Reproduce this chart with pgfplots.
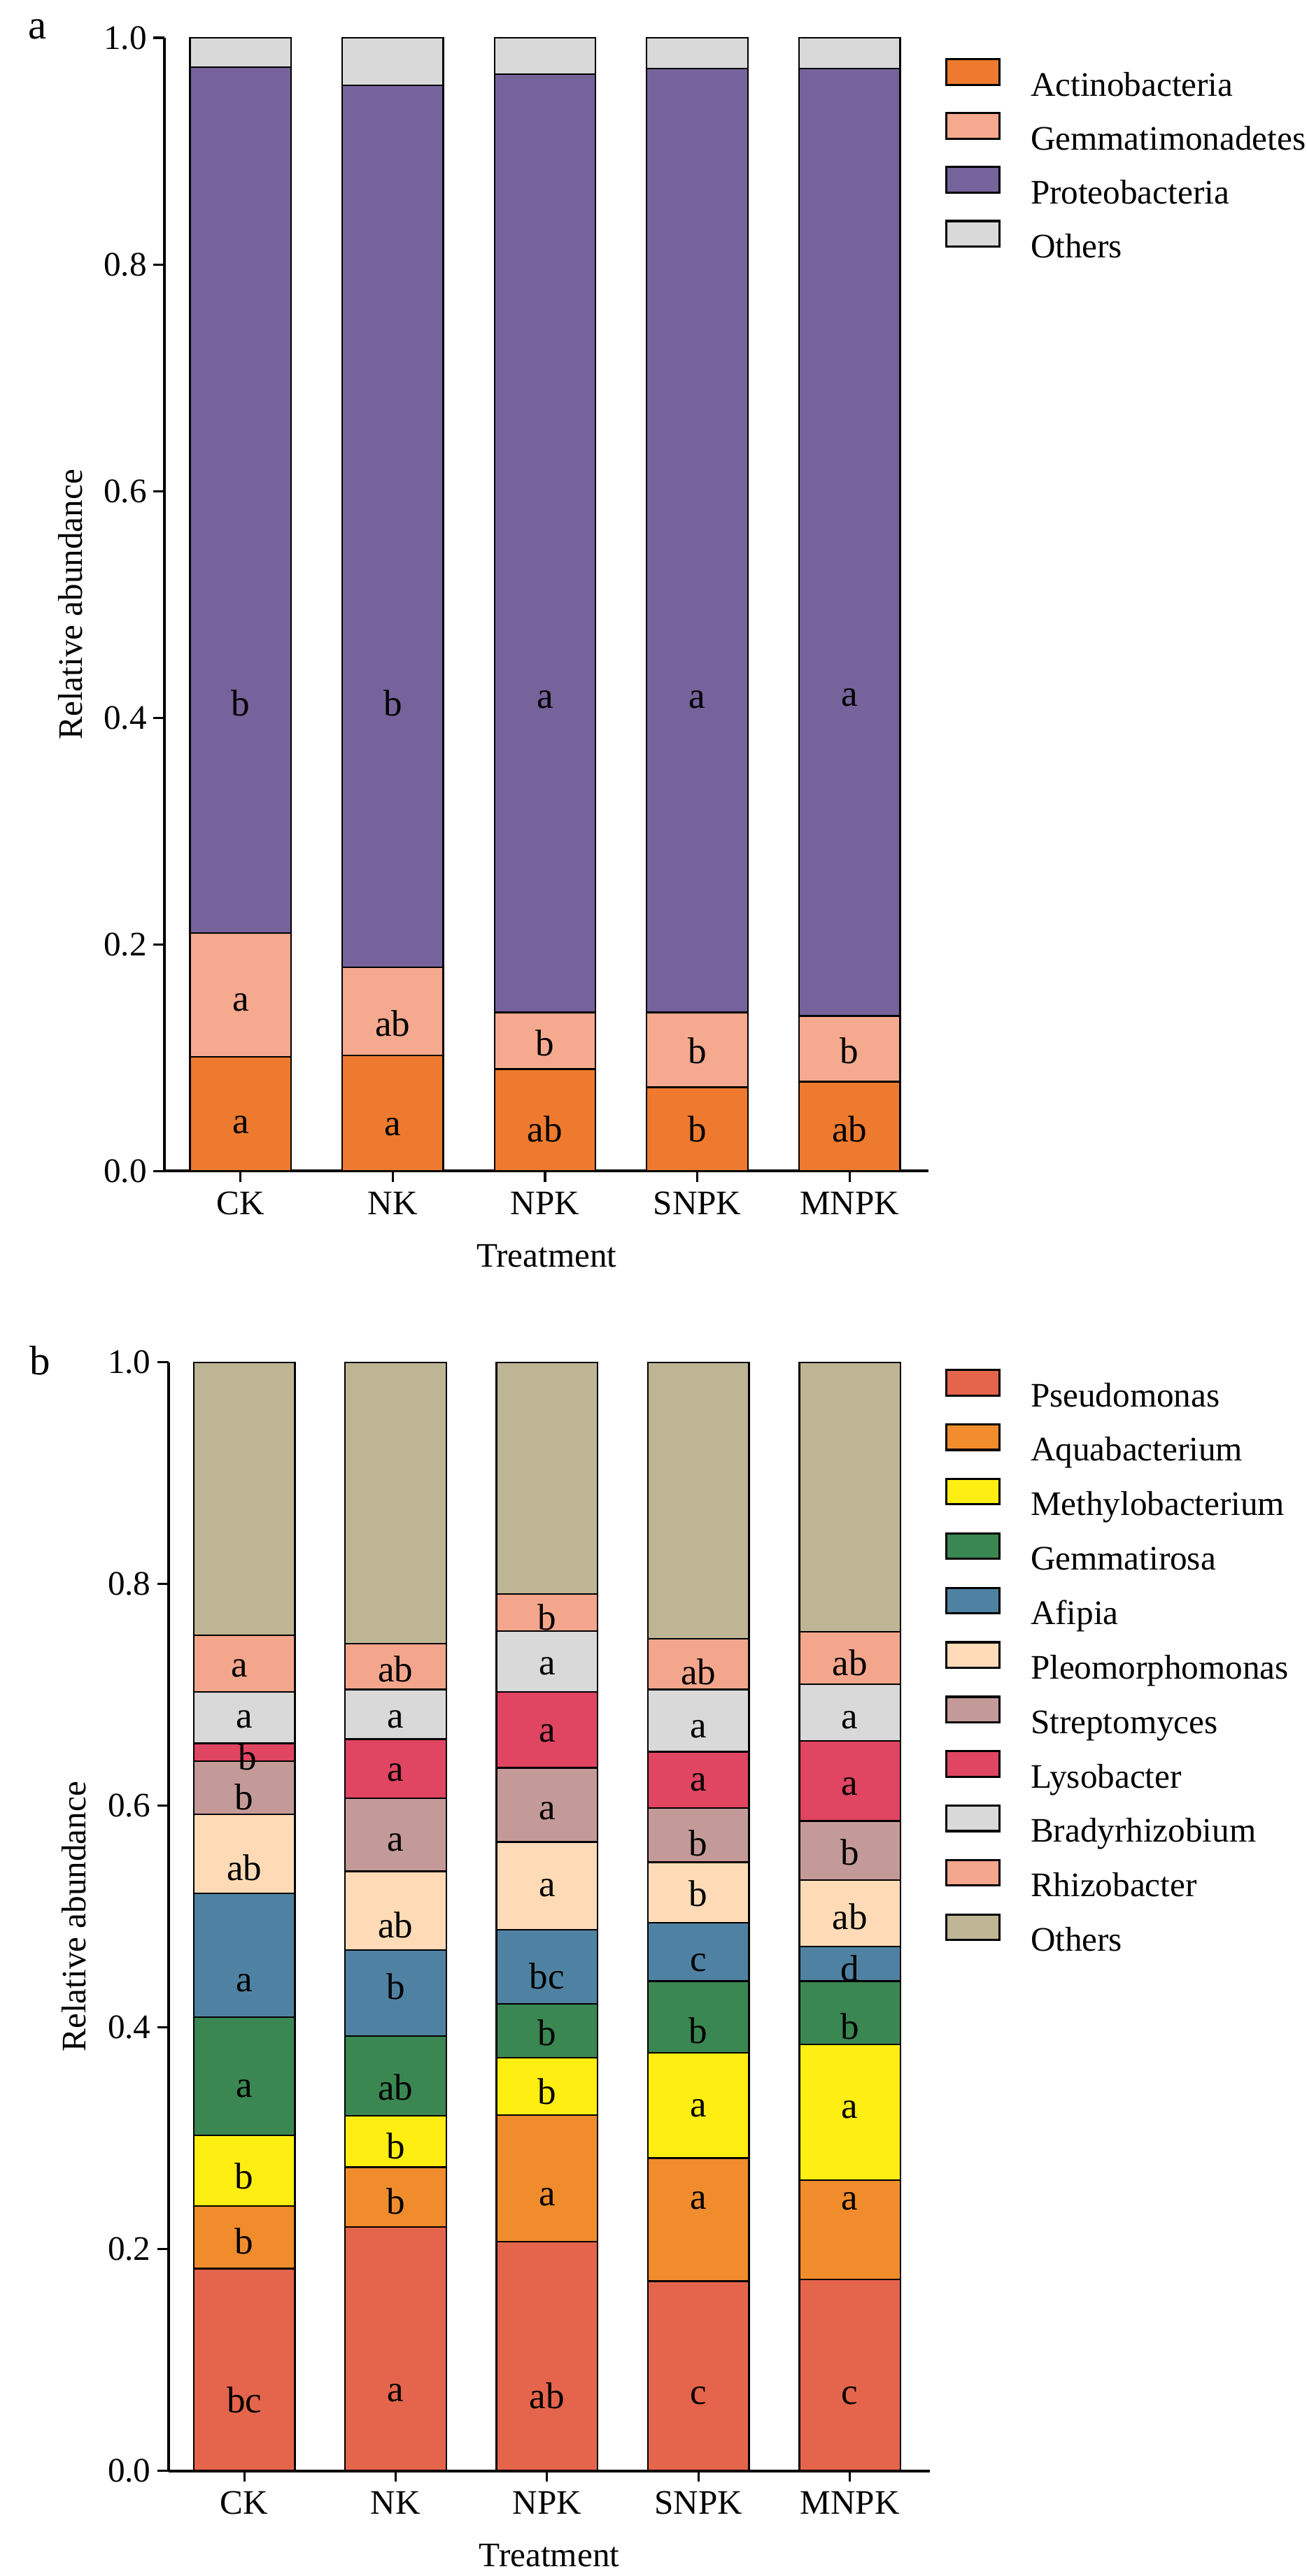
\documentclass[border=0pt]{standalone}
\usepackage{fontspec}
\setmainfont{Liberation Serif}
\usepackage{pgfplots}
\pgfplotsset{compat=1.18}
\usepackage{pgfplotstable}

\definecolor{cActino}{HTML}{ED7A2E}
\definecolor{cGemma}{HTML}{F5A98E}
\definecolor{cProteo}{HTML}{76639B}
\definecolor{cOther}{HTML}{D9D9D9}
\definecolor{cPs}{HTML}{E5654C}
\definecolor{cAq}{HTML}{F08C2C}
\definecolor{cMe}{HTML}{FFEE11}
\definecolor{cGe}{HTML}{3A8752}
\definecolor{cAf}{HTML}{4F82A2}
\definecolor{cPl}{HTML}{FEDBB6}
\definecolor{cSt}{HTML}{C49A98}
\definecolor{cLy}{HTML}{E04561}
\definecolor{cBr}{HTML}{D9D9D9}
\definecolor{cRh}{HTML}{F4A68C}
\definecolor{cOt}{HTML}{BDB594}

\pgfplotstableread{
x A G P O
0 0.101 0.109 0.764 0.026
1 0.102 0.078 0.778 0.042
2 0.090 0.050 0.828 0.032
3 0.074 0.066 0.833 0.027
4 0.079 0.058 0.836 0.027
}\phyla

\pgfplotstableread{
x Ps Aq Me Ge Af Pl St Ly Br Rh Ot
0 0.1825 0.0563 0.0639 0.1064 0.1118 0.0715 0.0479 0.0160 0.0464 0.0509 0.2464
1 0.2198 0.0540 0.0464 0.0722 0.0776 0.0707 0.0661 0.0533 0.0448 0.0411 0.2540
2 0.2068 0.1141 0.0517 0.0487 0.0669 0.0791 0.0669 0.0685 0.0547 0.0335 0.2091
3 0.1711 0.1110 0.0951 0.0646 0.0525 0.0547 0.0487 0.0510 0.0562 0.0457 0.2494
4 0.1726 0.0898 0.1224 0.0570 0.0312 0.0601 0.0532 0.0723 0.0509 0.0472 0.2433
}\genera

\newcommand{\tfont}{\fontsize{12.5}{15}\selectfont}
\newcommand{\lfont}{\fontsize{13.5}{16}\selectfont}
\tikzset{lb/.style={font=\lfont, inner sep=0pt, text=black}}

\pgfplotsset{
  bb/.style={draw=black, line width=0.6pt, fill=#1},
  common/.style={
    scale only axis,
    ybar stacked,
    bar width=36.75pt,
    xmin=-0.5, ymin=0, ymax=1,
    clip=false,
    axis x line*=bottom, axis y line*=left,
    axis line style={line width=1pt, black, -},
    xtick={0,1,2,3,4},
    xticklabels={CK,NK,NPK,SNPK,MNPK},
    ytick={0,0.2,0.4,0.6,0.8,1},
    yticklabel style={/pgf/number format/fixed, /pgf/number format/fixed zerofill, /pgf/number format/precision=1, /pgf/number format/assume math mode=true, inner xsep=2.25pt},
    tick align=outside,
    major tick length=4pt,
    tick style={line width=0.8pt, black},
    ticklabel style={font=\tfont},
    label style={font=\tfont},
    xlabel={Treatment},
    ylabel={Relative abundance},
    xlabel style={at={(axis description cs:0.5,0)}, yshift=-30.75pt, anchor=center},
    legend cell align=left,
    legend image code/.code={\draw[##1, draw=black, line width=0.8pt] (0pt,-0.45pt) rectangle (19.25pt,8.8pt);},
    legend style={draw=none, fill=none, inner sep=0pt, outer sep=0pt, font=\tfont,
      nodes={inner sep=0pt}, column sep=11pt},
  },
  overlay/.style={
    scale only axis, hide axis, clip=false,
    xmin=-0.5, ymin=0, ymax=1,
  }
}

\begin{document}
\begin{tikzpicture}[x=1pt,y=1pt]
\path (0,0) rectangle (474.75,920.75);
\node[font=\fontsize{15}{18}\selectfont, anchor=center] at (13.75,910) {a};
\node[font=\fontsize{15}{18}\selectfont, anchor=center] at (14.5,426) {b};

\begin{axis}[common,
  at={(59.75pt,495pt)}, anchor=south west,
  width=277.75pt, height=412pt, xmax=4.52,
  ylabel style={at={(axis description cs:-0.1233,0.5)}, anchor=center},
  legend style={at={(axis description cs:1,1)}, anchor=north west, xshift=6pt, yshift=-7.4pt, row sep=4.4pt}]
\addplot[bb=cActino] table[x=x,y=A]{\phyla};
\addplot[bb=cGemma] table[x=x,y=G]{\phyla};
\addplot[bb=cProteo] table[x=x,y=P]{\phyla};
\addplot[bb=cOther] table[x=x,y=O]{\phyla};
\legend{\strut Actinobacteria,\strut Gemmatimonadetes,\strut Proteobacteria,\strut Others}
\end{axis}

\begin{axis}[overlay,
  at={(59.75pt,495pt)}, anchor=south west,
  width=277.75pt, height=412pt, xmax=4.52]
\node[lb] at (axis cs:0,0.041) {a};
\node[lb] at (axis cs:0,0.149) {a};
\node[lb] at (axis cs:0,0.413) {b};
\node[lb] at (axis cs:1,0.039) {a};
\node[lb] at (axis cs:1,0.130) {ab};
\node[lb] at (axis cs:1,0.413) {b};
\node[lb] at (axis cs:2,0.037) {ab};
\node[lb] at (axis cs:2,0.113) {b};
\node[lb] at (axis cs:2,0.416) {a};
\node[lb] at (axis cs:3,0.037) {b};
\node[lb] at (axis cs:3,0.106) {b};
\node[lb] at (axis cs:3,0.416) {a};
\node[lb] at (axis cs:4,0.037) {ab};
\node[lb] at (axis cs:4,0.106) {b};
\node[lb] at (axis cs:4,0.418) {a};
\end{axis}

\begin{axis}[common,
  at={(61.25pt,22.5pt)}, anchor=south west,
  width=276.75pt, height=403pt, xmax=4.53,
  ylabel style={at={(axis description cs:-0.1238,0.5)}, anchor=center},
  legend style={at={(axis description cs:1,1)}, anchor=north west, xshift=5.5pt, yshift=-2.4pt, row sep=4.6pt}]
\addplot[bb=cPs] table[x=x,y=Ps]{\genera};
\addplot[bb=cAq] table[x=x,y=Aq]{\genera};
\addplot[bb=cMe] table[x=x,y=Me]{\genera};
\addplot[bb=cGe] table[x=x,y=Ge]{\genera};
\addplot[bb=cAf] table[x=x,y=Af]{\genera};
\addplot[bb=cPl] table[x=x,y=Pl]{\genera};
\addplot[bb=cSt] table[x=x,y=St]{\genera};
\addplot[bb=cLy] table[x=x,y=Ly]{\genera};
\addplot[bb=cBr] table[x=x,y=Br]{\genera};
\addplot[bb=cRh] table[x=x,y=Rh]{\genera};
\addplot[bb=cOt] table[x=x,y=Ot]{\genera};
\legend{\strut Pseudomonas,\strut Aquabacterium,\strut Methylobacterium,\strut Gemmatirosa,\strut Afipia,\strut Pleomorphomonas,\strut Streptomyces,\strut Lysobacter,\strut Bradyrhizobium,\strut Rhizobacter,\strut Others}
\end{axis}

\begin{axis}[overlay,
  at={(61.25pt,22.5pt)}, anchor=south west,
  width=276.75pt, height=403pt, xmax=4.53]
\node[lb] at (axis cs:0,0.064) {bc};
\node[lb] at (axis cs:0,0.207) {b};
\node[lb] at (axis cs:0,0.266) {b};
\node[lb] at (axis cs:0,0.345) {a};
\node[lb] at (axis cs:0,0.440) {a};
\node[lb] at (axis cs:0,0.544) {ab};
\node[lb] at (axis cs:0,0.608) {b};
\node[lb] at (axis cs:0.02,0.644) {b};
\node[lb] at (axis cs:0,0.678) {a};
\node[lb] at (axis cs:-0.03,0.724) {a};
\node[lb] at (axis cs:1,0.070) {a};
\node[lb] at (axis cs:1,0.243) {b};
\node[lb] at (axis cs:1,0.293) {b};
\node[lb] at (axis cs:1,0.346) {ab};
\node[lb] at (axis cs:1,0.437) {b};
\node[lb] at (axis cs:1,0.492) {ab};
\node[lb] at (axis cs:1,0.567) {a};
\node[lb] at (axis cs:1,0.630) {a};
\node[lb] at (axis cs:1,0.678) {a};
\node[lb] at (axis cs:1,0.723) {ab};
\node[lb] at (axis cs:2,0.068) {ab};
\node[lb] at (axis cs:2,0.247) {a};
\node[lb] at (axis cs:2,0.342) {b};
\node[lb] at (axis cs:2,0.395) {b};
\node[lb] at (axis cs:2,0.446) {bc};
\node[lb] at (axis cs:2,0.526) {a};
\node[lb] at (axis cs:2,0.595) {a};
\node[lb] at (axis cs:2,0.665) {a};
\node[lb] at (axis cs:2,0.726) {a};
\node[lb] at (axis cs:2,0.770) {b};
\node[lb] at (axis cs:3,0.068) {c};
\node[lb] at (axis cs:3,0.244) {a};
\node[lb] at (axis cs:3,0.327) {a};
\node[lb] at (axis cs:3,0.397) {b};
\node[lb] at (axis cs:3,0.458) {c};
\node[lb] at (axis cs:3,0.521) {b};
\node[lb] at (axis cs:3,0.566) {b};
\node[lb] at (axis cs:3,0.621) {a};
\node[lb] at (axis cs:3,0.669) {a};
\node[lb] at (axis cs:3,0.721) {ab};
\node[lb] at (axis cs:4,0.068) {c};
\node[lb] at (axis cs:4,0.243) {a};
\node[lb] at (axis cs:4,0.326) {a};
\node[lb] at (axis cs:4,0.401) {b};
\node[lb] at (axis cs:4,0.453) {d};
\node[lb] at (axis cs:4,0.500) {ab};
\node[lb] at (axis cs:4,0.558) {b};
\node[lb] at (axis cs:4,0.617) {a};
\node[lb] at (axis cs:4,0.677) {a};
\node[lb] at (axis cs:4,0.729) {ab};
\end{axis}
\end{tikzpicture}
\end{document}
